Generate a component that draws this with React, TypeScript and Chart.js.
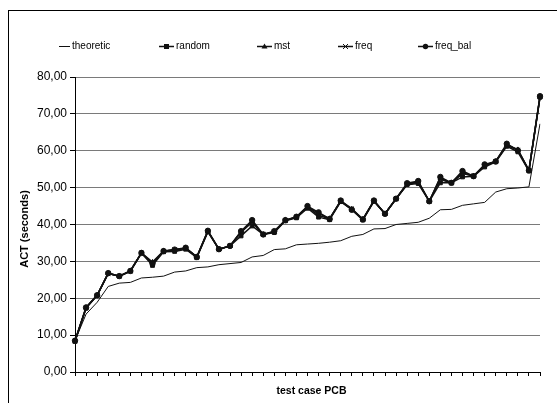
import React, { useEffect, useRef } from "react";
import { Chart, registerables } from "chart.js";

Chart.register(...registerables);

const cases = Array.from({ length: 43 }, (_, i) => String(i + 1));

const theoretic = [8.5, 15.7, 18.9, 23.2, 24.1, 24.3, 25.5, 25.7, 26.0, 27.1, 27.4, 28.3, 28.5, 29.1, 29.4, 29.7, 31.2, 31.6, 33.2, 33.4, 34.5, 34.7, 34.9, 35.2, 35.6, 36.8, 37.3, 38.8, 38.9, 40.0, 40.3, 40.6, 41.7, 44.0, 44.1, 45.2, 45.6, 46.0, 48.8, 49.7, 49.9, 50.2, 67.3];
const random = [8.3, 17.3, 20.8, 26.8, 26.0, 27.4, 32.3, 28.9, 32.6, 32.7, 33.3, 31.0, 38.0, 33.3, 34.2, 36.9, 39.6, 37.3, 37.8, 41.0, 41.8, 44.4, 42.0, 41.3, 46.2, 44.0, 41.2, 46.3, 42.9, 47.0, 50.8, 51.1, 46.3, 51.3, 51.3, 52.9, 53.1, 55.6, 57.0, 61.2, 59.7, 54.5, 74.5];
const mst = [8.5, 17.5, 20.8, 26.8, 26.0, 27.4, 32.3, 29.8, 32.8, 33.0, 33.6, 31.2, 38.2, 33.3, 34.2, 38.0, 40.8, 37.3, 38.0, 41.2, 42.0, 44.8, 43.0, 41.6, 46.3, 44.2, 41.4, 46.4, 42.9, 47.0, 51.0, 51.6, 46.3, 52.6, 51.3, 54.0, 53.1, 56.0, 57.1, 61.6, 60.3, 54.7, 74.6];
const freq = [8.4, 17.4, 20.8, 26.7, 26.0, 27.3, 32.2, 29.5, 32.7, 33.2, 33.5, 31.2, 38.2, 33.2, 34.2, 37.9, 40.6, 37.3, 38.1, 41.1, 42.0, 44.7, 42.5, 41.5, 46.4, 44.3, 41.4, 46.4, 42.9, 47.0, 51.0, 51.4, 46.3, 52.2, 51.3, 53.8, 53.2, 56.0, 57.1, 61.5, 60.2, 54.6, 74.7];
const freqBal = [8.5, 17.5, 20.8, 26.8, 26.0, 27.4, 32.3, 29.4, 32.8, 33.2, 33.7, 31.2, 38.3, 33.3, 34.2, 38.2, 41.2, 37.3, 38.2, 41.2, 42.1, 45.0, 43.3, 41.5, 46.5, 44.0, 41.4, 46.5, 42.9, 47.0, 51.2, 51.8, 46.3, 52.9, 51.3, 54.5, 53.1, 56.3, 57.1, 61.9, 60.1, 54.7, 74.8];

const seriesNames = ["theoretic", "random", "mst", "freq", "freq_bal"];
const pointStyles = [false, "rect", "triangle", "crossRot", "circle"];
const legendX = [59, 159, 257, 338, 418];

const yTitle = "ACT (seconds)";
const xTitle = "test case PCB";

const ink = "#111111";

const decor = {
  id: "decor",
  beforeDraw(chart: any) {
    const ctx = chart.ctx;
    ctx.save();
    ctx.fillStyle = "#ffffff";
    ctx.fillRect(0, 0, chart.width, chart.height);
    ctx.restore();
  },
  afterDraw(chart: any) {
    const ctx = chart.ctx;
    ctx.save();
    // frame
    ctx.strokeStyle = "#000";
    ctx.lineWidth = 1;
    ctx.strokeRect(8.5, 10.5, 700, 600);
    // legend
    const ly = 46;
    ctx.font = "10px 'Liberation Sans', Arial, sans-serif";
    ctx.textBaseline = "middle";
    ctx.textAlign = "left";
    seriesNames.forEach((name, i) => {
      const x0 = legendX[i];
      const w = i === 0 ? 11 : 15;
      ctx.strokeStyle = ink;
      ctx.lineWidth = i === 0 ? 1 : 1.5;
      ctx.beginPath();
      ctx.moveTo(x0, ly + 0.5);
      ctx.lineTo(x0 + w, ly + 0.5);
      ctx.stroke();
      const ps = pointStyles[i];
      if (ps) {
        ctx.fillStyle = ink;
        ctx.strokeStyle = ink;
        ctx.lineWidth = 1;
        const cx = x0 + w / 2;
        const cy = ly + 0.5;
        if (ps === "rect") {
          ctx.fillRect(cx - 2.5, cy - 2.5, 5, 5);
        } else if (ps === "triangle") {
          ctx.beginPath();
          ctx.moveTo(cx, cy - 3);
          ctx.lineTo(cx + 3, cy + 2);
          ctx.lineTo(cx - 3, cy + 2);
          ctx.closePath();
          ctx.fill();
        } else if (ps === "crossRot") {
          ctx.beginPath();
          ctx.moveTo(cx - 2.5, cy - 2.5);
          ctx.lineTo(cx + 2.5, cy + 2.5);
          ctx.moveTo(cx + 2.5, cy - 2.5);
          ctx.lineTo(cx - 2.5, cy + 2.5);
          ctx.stroke();
        } else {
          ctx.beginPath();
          ctx.arc(cx, cy, 2.7, 0, Math.PI * 2);
          ctx.fill();
        }
      }
      ctx.fillStyle = "#000";
      ctx.fillText(name, x0 + w + 2, ly);
    });
    // axis titles
    ctx.fillStyle = "#000";
    ctx.font = "bold 11px 'Liberation Sans', Arial, sans-serif";
    ctx.textAlign = "center";
    ctx.textBaseline = "middle";
    ctx.save();
    ctx.translate(25, 229);
    ctx.rotate(-Math.PI / 2);
    ctx.fillText(yTitle, 0, 0);
    ctx.restore();
    ctx.font = "bold 10.5px 'Liberation Sans', Arial, sans-serif";
    const area = chart.chartArea;
    ctx.fillText(xTitle, (area.left + area.right) / 2 + 4, 391);
    ctx.restore();
  },
};

export default function App() {
  const ref = useRef<HTMLCanvasElement | null>(null);

  useEffect(() => {
    if (!ref.current) return;
    const all = [theoretic, random, mst, freq, freqBal];
    const datasets = all.map((d, i) => ({
      label: seriesNames[i],
      data: d,
      borderColor: ink,
      backgroundColor: ink,
      borderWidth: i === 0 ? 1 : 1.5,
      pointStyle: pointStyles[i] as any,
      pointRadius: i === 0 ? 0 : i === 3 ? 3 : 2.7,
      pointBorderWidth: 1,
      pointBorderColor: ink,
      pointBackgroundColor: ink,
      tension: 0,
      fill: false,
    }));
    datasets.reverse();
    const chart = new Chart(ref.current, {
      type: "line",
      data: { labels: cases, datasets },
      options: {
        animation: false,
        responsive: false,
        maintainAspectRatio: false,
        events: [],
        layout: { padding: { left: 15, right: 17, top: 77, bottom: 6 } },
        plugins: { legend: { display: false }, tooltip: { enabled: false } },
        scales: {
          x: {
            type: "category",
            offset: false,
            afterFit: (s: any) => {
              s.height = 25;
            },
            grid: {
              drawOnChartArea: false,
              drawTicks: true,
              tickLength: 4,
              color: "#000",
              tickColor: "#000",
            },
            border: { color: "#000", width: 1 },
            ticks: { display: false, autoSkip: false },
          },
          y: {
            min: 0,
            max: 80,
            afterFit: (s: any) => {
              s.width = 60;
            },
            grid: {
              color: "#7a7a7a",
              tickColor: "#000",
              tickLength: 5,
              lineWidth: 1,
            },
            border: { color: "#000", width: 1 },
            ticks: {
              stepSize: 10,
              padding: 3,
              color: "#000",
              font: { family: "'Liberation Sans', Arial, sans-serif", size: 12 },
              callback: (v: any) => Number(v).toFixed(2).replace(".", ","),
            },
          },
        },
      },
      plugins: [decor],
    });
    return () => chart.destroy();
  }, []);

  return (
    <div style={{ position: "absolute", left: 0, top: 0, width: 557, height: 403 }}>
      <canvas ref={ref} width={557} height={403} style={{ display: "block", width: 557, height: 403 }} />
    </div>
  );
}
